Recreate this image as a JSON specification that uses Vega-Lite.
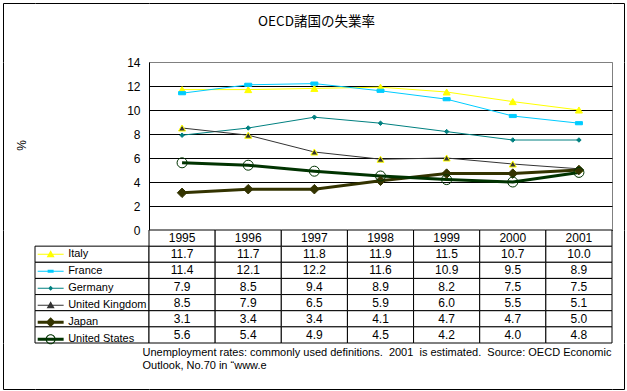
{
  "$schema": "https://vega.github.io/schema/vega-lite/v6.json",
  "background": "white",
  "padding": {"left": 2, "top": 2, "right": 3, "bottom": 2},
  "datasets": {
    "unemp": [
      {"series": "Italy", "year": 1995, "value": 11.7},
      {"series": "Italy", "year": 1996, "value": 11.7},
      {"series": "Italy", "year": 1997, "value": 11.8},
      {"series": "Italy", "year": 1998, "value": 11.9},
      {"series": "Italy", "year": 1999, "value": 11.5},
      {"series": "Italy", "year": 2000, "value": 10.7},
      {"series": "Italy", "year": 2001, "value": 10.0},
      {"series": "France", "year": 1995, "value": 11.4},
      {"series": "France", "year": 1996, "value": 12.1},
      {"series": "France", "year": 1997, "value": 12.2},
      {"series": "France", "year": 1998, "value": 11.6},
      {"series": "France", "year": 1999, "value": 10.9},
      {"series": "France", "year": 2000, "value": 9.5},
      {"series": "France", "year": 2001, "value": 8.9},
      {"series": "Germany", "year": 1995, "value": 7.9},
      {"series": "Germany", "year": 1996, "value": 8.5},
      {"series": "Germany", "year": 1997, "value": 9.4},
      {"series": "Germany", "year": 1998, "value": 8.9},
      {"series": "Germany", "year": 1999, "value": 8.2},
      {"series": "Germany", "year": 2000, "value": 7.5},
      {"series": "Germany", "year": 2001, "value": 7.5},
      {"series": "United Kingdom", "year": 1995, "value": 8.5},
      {"series": "United Kingdom", "year": 1996, "value": 7.9},
      {"series": "United Kingdom", "year": 1997, "value": 6.5},
      {"series": "United Kingdom", "year": 1998, "value": 5.9},
      {"series": "United Kingdom", "year": 1999, "value": 6.0},
      {"series": "United Kingdom", "year": 2000, "value": 5.5},
      {"series": "United Kingdom", "year": 2001, "value": 5.1},
      {"series": "Japan", "year": 1995, "value": 3.1},
      {"series": "Japan", "year": 1996, "value": 3.4},
      {"series": "Japan", "year": 1997, "value": 3.4},
      {"series": "Japan", "year": 1998, "value": 4.1},
      {"series": "Japan", "year": 1999, "value": 4.7},
      {"series": "Japan", "year": 2000, "value": 4.7},
      {"series": "Japan", "year": 2001, "value": 5.0},
      {"series": "United States", "year": 1995, "value": 5.6},
      {"series": "United States", "year": 1996, "value": 5.4},
      {"series": "United States", "year": 1997, "value": 4.9},
      {"series": "United States", "year": 1998, "value": 4.5},
      {"series": "United States", "year": 1999, "value": 4.2},
      {"series": "United States", "year": 2000, "value": 4.0},
      {"series": "United States", "year": 2001, "value": 4.8}
    ]
  },
  "config": {
    "view": {"stroke": null},
    "font": "Liberation Sans",
    "axis": {"labelFont": "Liberation Sans", "titleFont": "Liberation Sans"},
    "legend": {"labelFont": "Liberation Sans"},
    "title": {"font": "Liberation Sans", "fontWeight": "normal", "color": "black"}
  },
  "bounds": "flush",
  "spacing": 0,
  "columns": 4,
  "align": "each",
  "resolve": {
    "scale": {"shape": "independent", "fill": "independent", "stroke": "independent", "color": "independent"},
    "legend": {"shape": "independent", "fill": "independent", "stroke": "independent", "color": "independent"}
  },
  "concat": [
    {"width": 32, "height": 59, "view": {"stroke": "black", "strokeWidth": 1, "strokeDash": [32, 91, 59]}, "data": {"values": []}, "mark": "rect"},
    {"width": 114, "height": 59, "view": {"stroke": "black", "strokeWidth": 1, "strokeDash": [114, 232]}, "data": {"values": []}, "mark": "rect"},
    {"width": 463, "height": 59, "view": {"stroke": "black", "strokeWidth": 1, "strokeDash": [463, 581]}, "data": {"values": []}, "mark": "rect"},
    {"width": 12, "height": 59, "view": {"stroke": "black", "strokeWidth": 1, "strokeDash": [71, 71]}, "data": {"values": []}, "mark": "rect"},

    {"width": 32, "height": 168, "view": {"stroke": "black", "strokeWidth": 1, "strokeDash": [0, 232, 168]}, "data": {"values": []}, "mark": "rect"},
    {"width": 114, "height": 168, "data": {"values": []}, "mark": "rect"},
    {
      "width": 463,
      "height": 168,
      "view": {"stroke": "#808080", "strokeWidth": 1},
      "title": {
        "text": "OECD諸国の失業率",
        "font": "Noto Sans CJK JP",
        "fontSize": 13.5,
        "fontWeight": "normal",
        "color": "black",
        "anchor": "middle",
        "dx": -64,
        "offset": 28
      },
      "data": {"name": "unemp"},
      "encoding": {
        "x": {"field": "year", "type": "ordinal", "axis": null, "scale": {"type": "point", "padding": 0.5}},
        "y": {
          "field": "value",
          "type": "quantitative",
          "scale": {"domain": [0, 14], "nice": false},
          "axis": {
            "values": [0, 2, 4, 6, 8, 10, 12, 14],
            "format": "d",
            "title": "%",
            "titleX": -128,
            "titleY": 83,
            "titleAngle": -90,
            "titleAlign": "center",
            "titleBaseline": "middle",
            "titleFontSize": 12,
            "titleFontWeight": "normal",
            "titleColor": "black",
            "labelFontSize": 12,
            "labelColor": "black",
            "labelPadding": 9,
            "ticks": false,
            "domainColor": "black",
            "grid": true,
            "gridOpacity": 1,
            "gridColor": {"condition": {"test": "datum.value == 14", "value": "#808080"}, "value": "black"}
          }
        }
      },
      "layer": [
        {
          "transform": [{"filter": {"field": "series", "oneOf": ["Italy", "France", "Germany", "United Kingdom"]}}],
          "mark": {"type": "line", "strokeWidth": 1},
          "encoding": {
            "color": {
              "field": "series", "type": "nominal", "legend": null,
              "scale": {
                "domain": ["Italy", "France", "Germany", "United Kingdom", "Japan", "United States"],
                "range": ["#FFFF00", "#00CCFF", "#008080", "#333333", "#333300", "#003300"]
              }
            }
          }
        },
        {
          "transform": [{"filter": {"field": "series", "oneOf": ["Japan", "United States"]}}],
          "mark": {"type": "line", "strokeWidth": 3},
          "encoding": {
            "color": {
              "field": "series", "type": "nominal", "legend": null,
              "scale": {
                "domain": ["Italy", "France", "Germany", "United Kingdom", "Japan", "United States"],
                "range": ["#FFFF00", "#00CCFF", "#008080", "#333333", "#333300", "#003300"]
              }
            }
          }
        },
        {
          "transform": [{"filter": {"field": "series", "oneOf": ["Italy", "France", "United Kingdom"]}}],
          "mark": {"type": "point", "filled": true, "size": 49, "strokeWidth": 1, "opacity": 1},
          "encoding": {
            "shape": {"field": "series", "type": "nominal", "legend": null,
              "scale": {"domain": ["Italy", "France", "Germany", "United Kingdom", "Japan", "United States"],
                "range": ["triangle-up", "M-1,-0.45H1V0.45H-1Z", "diamond", "triangle-up", "diamond", "circle"]}},
            "fill": {"field": "series", "type": "nominal", "legend": null,
              "scale": {"domain": ["Italy", "France", "Germany", "United Kingdom", "Japan", "United States"],
                "range": ["#FFFF00", "#00CCFF", "#008080", "#333333", "#333300", "transparent"]}},
            "stroke": {"field": "series", "type": "nominal", "legend": null,
              "scale": {"domain": ["Italy", "France", "Germany", "United Kingdom", "Japan", "United States"],
                "range": ["#FFFF00", "#00CCFF", "#008080", "#FFFF00", "#333300", "#003300"]}}
          }
        },
        {
          "transform": [{"filter": "datum.series == 'Germany'"}],
          "mark": {"type": "point", "filled": true, "size": 20, "strokeWidth": 1, "opacity": 1},
          "encoding": {
            "shape": {"field": "series", "type": "nominal", "legend": null},
            "fill": {"field": "series", "type": "nominal", "legend": null},
            "stroke": {"field": "series", "type": "nominal", "legend": null}
          }
        },
        {
          "transform": [{"filter": "datum.series == 'Japan'"}],
          "mark": {"type": "point", "filled": true, "size": 90, "strokeWidth": 1, "opacity": 1},
          "encoding": {
            "shape": {"field": "series", "type": "nominal", "legend": null},
            "fill": {"field": "series", "type": "nominal", "legend": null},
            "stroke": {"field": "series", "type": "nominal", "legend": null}
          }
        },
        {
          "transform": [{"filter": "datum.series == 'United States'"}],
          "mark": {"type": "point", "filled": true, "size": 100, "strokeWidth": 1, "opacity": 1},
          "encoding": {
            "shape": {"field": "series", "type": "nominal", "legend": null},
            "fill": {"field": "series", "type": "nominal", "legend": null},
            "stroke": {"field": "series", "type": "nominal", "legend": null}
          }
        }
      ]
    },
    {"width": 12, "height": 168, "view": {"stroke": "black", "strokeWidth": 1, "strokeDash": [0, 12, 168, 180]}, "data": {"values": []}, "mark": "rect"},

    {"width": 32, "height": 113, "view": {"stroke": "black", "strokeWidth": 1, "strokeDash": [0, 177, 113]}, "data": {"values": []}, "mark": "rect"},
    {
      "width": 114,
      "height": 113,
      "data": {"name": "unemp"},
      "encoding": {
        "y": {"field": "series", "type": "nominal", "axis": null,
          "scale": {"domain": ["hdr", "Italy", "France", "Germany", "United Kingdom", "Japan", "United States"], "paddingInner": 0, "paddingOuter": 0}}
      },
      "layer": [
        {
          "transform": [{"filter": "datum.year == 1995"}],
          "mark": {"type": "rect", "fill": "white", "stroke": "black", "strokeWidth": 1}
        },
        {
          "transform": [{"filter": "datum.year == 0"}],
          "mark": {"type": "point", "filled": true, "opacity": 1, "strokeWidth": 0},
          "encoding": {
            "shape": {
              "field": "series", "type": "nominal",
              "scale": {"domain": ["Italy", "France", "Germany", "United Kingdom", "Japan", "United States"],
                "range": [
                  "M-5,-0.5H21V0.5H-5ZM8,-4L12,3L4,3Z",
                  "M-5,-0.5H21V0.5H-5ZM5,-1.5H11V1.5H5Z",
                  "M-5,-0.5H21V0.5H-5ZM8,-2.5L10.5,0L8,2.5L5.5,0Z",
                  "M-5,-0.5H21V0.5H-5ZM8,-4L12,3L4,3Z",
                  "M-5,-1.5H21V1.5H-5ZM8,-5L13,0L8,5L3,0Z",
                  "M-5,-1.5H21V1.5H-5ZM3,0A5,5 0 1,1 13,0A5,5 0 1,1 3,0ZM4,0A4,4 0 1,0 12,0A4,4 0 1,0 4,0Z"
                ]},
              "legend": {
                "orient": "none", "legendX": 2.14, "legendY": 16.14, "padding": 0, "title": null,
                "symbolSize": 4, "clipHeight": 16.14, "rowPadding": 0, "labelOffset": 20,
                "labelFontSize": 11, "labelColor": "black", "labelLimit": 200, "symbolStrokeWidth": 0
              }
            },
            "fill": {
              "field": "series", "type": "nominal",
              "scale": {"domain": ["Italy", "France", "Germany", "United Kingdom", "Japan", "United States"],
                "range": ["#FFFF00", "#00CCFF", "#008080", "#333333", "#333300", "#003300"]},
              "legend": {
                "orient": "none", "legendX": 2.14, "legendY": 16.14, "padding": 0, "title": null,
                "symbolSize": 4, "clipHeight": 16.14, "rowPadding": 0, "labelOffset": 20,
                "labelFontSize": 11, "labelColor": "black", "labelLimit": 200, "symbolStrokeWidth": 0
              }
            }
          }
        }
      ]
    },
    {
      "width": 463,
      "height": 113,
      "data": {"name": "unemp"},
      "title": {
        "text": ["Unemployment rates: commonly used definitions.\u00a0 2001\u00a0 is estimated.\u00a0 Source: OECD Economic", "Outlook, No.70 in “www.e"],
        "orient": "bottom",
        "anchor": "start",
        "dx": -6,
        "offset": 3,
        "fontSize": 11,
        "fontWeight": "normal",
        "lineHeight": 13.5,
        "color": "black"
      },
      "encoding": {
        "x": {"field": "year", "type": "ordinal", "axis": null, "scale": {"paddingInner": 0, "paddingOuter": 0}},
        "y": {"field": "series", "type": "nominal", "axis": null,
          "scale": {"domain": ["hdr", "Italy", "France", "Germany", "United Kingdom", "Japan", "United States"], "paddingInner": 0, "paddingOuter": 0}}
      },
      "layer": [
        {
          "mark": {"type": "rect", "fill": "white", "stroke": "black", "strokeWidth": 1}
        },
        {
          "transform": [{"filter": "datum.series == 'Italy'"}],
          "mark": {"type": "rect", "fill": "white", "stroke": "black", "strokeWidth": 1},
          "encoding": {"y": {"datum": "hdr"}}
        },
        {
          "mark": {"type": "text", "fontSize": 12, "color": "black"},
          "encoding": {"text": {"field": "value", "type": "quantitative", "format": ".1f"}}
        },
        {
          "transform": [{"filter": "datum.series == 'Italy'"}],
          "mark": {"type": "text", "fontSize": 12, "color": "black"},
          "encoding": {"y": {"datum": "hdr"}, "text": {"field": "year", "type": "ordinal"}}
        }
      ]
    },
    {"width": 12, "height": 113, "view": {"stroke": "black", "strokeWidth": 1, "strokeDash": [0, 12, 113, 125]}, "data": {"values": []}, "mark": "rect"},

    {"width": 32, "height": 46, "view": {"stroke": "black", "strokeWidth": 1, "strokeDash": [0, 78, 78]}, "data": {"values": []}, "mark": "rect"},
    {"width": 114, "height": 46, "view": {"stroke": "black", "strokeWidth": 1, "strokeDash": [0, 160, 114, 46]}, "data": {"values": []}, "mark": "rect"},
    {"width": 463, "height": 46, "view": {"stroke": "black", "strokeWidth": 1, "strokeDash": [0, 509, 463, 46]}, "data": {"values": []}, "mark": "rect"},
    {"width": 12, "height": 46, "view": {"stroke": "black", "strokeWidth": 1, "strokeDash": [0, 12, 58, 46]}, "data": {"values": []}, "mark": "rect"}
  ]
}
